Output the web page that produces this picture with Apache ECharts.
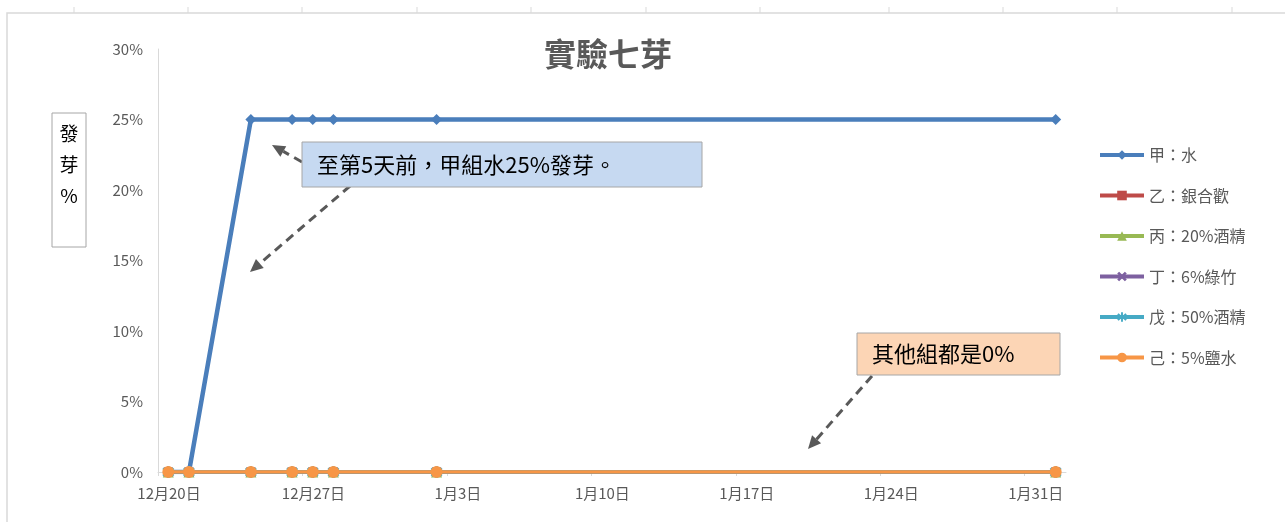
<!DOCTYPE html>
<html><head><meta charset="utf-8">
<script src="https://cdn.jsdelivr.net/npm/echarts@6/dist/echarts.min.js"></script>
<style>html,body{margin:0;padding:0;background:#fff}#c{width:1285px;height:522px}</style>
</head><body><div id="c"></div>
<script>
const titleText = '實驗七芽';
const yAxisTitle = '發\n芽\n%';
const dates = ['2016-12-20','2016-12-21','2016-12-24','2016-12-26','2016-12-27','2016-12-28','2017-01-02','2017-02-01'];
const tickDates = ['2016-12-20','2016-12-27','2017-01-03','2017-01-10','2017-01-17','2017-01-24','2017-01-31'];
const axisStart = '2016-12-20';
const axisEnd = '2017-02-02';
const seriesNames = ['甲：水','乙：銀合歡','丙：20%酒精','丁：6%綠竹','戊：50%酒精','己：5%鹽水'];
const jia  = [0, 0, 0.25, 0.25, 0.25, 0.25, 0.25, 0.25];
const yi   = [0, 0, 0, 0, 0, 0, 0, 0];
const bing = [0, 0, 0, 0, 0, 0, 0, 0];
const ding = [0, 0, 0, 0, 0, 0, 0, 0];
const wu   = [0, 0, 0, 0, 0, 0, 0, 0];
const ji   = [0, 0, 0, 0, 0, 0, 0, 0];
const note1 = '至第5天前，甲組水25%發芽。';
const note2 = '其他組都是0%';

const DAY = 86400000;
const t0 = Date.parse(axisStart);
const off = d => (Date.parse(d) - t0) / DAY;
const tickVals = tickDates.map(off);
const fmt = v => { const d = new Date(t0 + v * DAY); return (d.getUTCMonth() + 1) + '月' + d.getUTCDate() + '日'; };

const colors = ['#4A7EBB','#BE4B48','#98B954','#7D60A0','#46AAC5','#F79646'];
const xSym = 'path://M2,0L5,3L8,0L10,2L7,5L10,8L8,10L5,7L2,10L0,8L3,5L0,2Z';
const starSym = 'path://M4,0L6,0L6,3.5L8.5,1L10,2.5L7,5L10,7.5L8.5,9L6,6.5L6,10L4,10L4,6.5L1.5,9L0,7.5L3,5L0,2.5L1.5,1L4,3.5Z';
const symbols = ['diamond','rect','triangle',xSym,starSym,'circle'];
const sizes = [11,9,11,10,12,12];
const widths = [4.5,3.5,3.5,3.5,3.5,3.5];
const allData = [jia, yi, bing, ding, wu, ji];

const series = allData.map((arr, i) => ({
  name: seriesNames[i], type: 'line',
  data: arr.map((v, k) => [off(dates[k]) + 0.5, v]),
  symbol: symbols[i], symbolSize: sizes[i], showAllSymbol: true,
  lineStyle: { color: colors[i], width: widths[i] },
  itemStyle: { color: colors[i] },
  emphasis: { disabled: true }, animation: false, z: 2 + i
}));

function arrow(x1, y1, x2, y2) {
  const a = Math.atan2(y2 - y1, x2 - x1), L = 13, W = 6;
  const bx = x2 - L * Math.cos(a), by = y2 - L * Math.sin(a);
  const px = -Math.sin(a) * W, py = Math.cos(a) * W;
  return [
    { type: 'line', shape: { x1: x1, y1: y1, x2: bx, y2: by }, style: { stroke: '#595959', lineWidth: 3, lineDash: [9, 6] }, z: 50 },
    { type: 'polygon', shape: { points: [[x2, y2], [bx + px, by + py], [bx - px, by - py]] }, style: { fill: '#595959' }, z: 50 }
  ];
}

const gridTicks = [74, 188, 302, 417, 531, 646, 760, 889, 1003, 1117, 1232].map(x => ({
  type: 'line', shape: { x1: x, y1: 7, x2: x, y2: 13 }, style: { stroke: '#d9d9d9', lineWidth: 1 }, z: 1
}));

const chart = echarts.init(document.getElementById('c'), null, { renderer: 'canvas' });
chart.setOption({
  animation: false,
  backgroundColor: '#fff',
  textStyle: { fontFamily: 'Noto Sans CJK TC' },
  title: { text: titleText, left: 603, top: 33, textAlign: 'center',
    textStyle: { fontSize: 32, fontWeight: 'bold', color: '#595959', fontFamily: 'Noto Sans CJK TC' } },
  grid: { left: 158, right: 219, top: 49, bottom: 50, containLabel: false },
  legend: {
    orient: 'vertical', left: 1093, top: 142, itemWidth: 44, itemHeight: 12, itemGap: 24.5,
    lineStyle: { width: 4 },
    textStyle: { fontSize: 16, color: '#595959', fontFamily: 'Noto Sans CJK TC' },
    data: seriesNames
  },
  xAxis: {
    type: 'value', min: 0, max: off(axisEnd),
    axisLine: { show: true, lineStyle: { color: '#d9d9d9' } },
    axisTick: { show: true, length: 4, lineStyle: { color: '#d9d9d9' }, customValues: tickVals },
    axisLabel: { customValues: tickVals, formatter: fmt, color: '#595959', fontSize: 15, margin: 14,
      padding: [0, 0, 0, 22], fontFamily: 'Noto Sans CJK TC' },
    splitLine: { show: false }
  },
  yAxis: {
    type: 'value', min: 0, max: 0.3, interval: 0.05,
    axisLine: { show: true, lineStyle: { color: '#d9d9d9' } },
    axisTick: { show: false },
    axisLabel: { formatter: v => Math.round(v * 100) + '%', color: '#595959', fontSize: 15, margin: 15, fontFamily: 'Noto Sans CJK TC' },
    splitLine: { show: false }
  },
  series: series,
  graphic: [
    { type: 'rect', shape: { x: 7, y: 13, width: 1290, height: 520 }, style: { fill: 'none', stroke: '#d9d9d9', lineWidth: 1.5 }, z: 0, silent: true },
    ...gridTicks,
    { type: 'rect', shape: { x: 52, y: 113, width: 34, height: 134 }, style: { fill: '#fff', stroke: '#a6a6a6', lineWidth: 1 }, z: 40 },
    { type: 'text', x: 69, y: 118, style: { text: yAxisTitle, fill: '#000', font: '19px "Noto Sans CJK TC"', align: 'center', lineHeight: 31 }, z: 41 },
    ...arrow(302, 162, 272, 145),
    ...arrow(350, 186, 250, 272),
    ...arrow(872, 376, 808, 449),
    { type: 'rect', shape: { x: 302, y: 142, width: 400, height: 45 }, style: { fill: '#C6D9F1', stroke: '#a6a6a6', lineWidth: 1 }, z: 60 },
    { type: 'text', x: 317, y: 164.5, style: { text: note1, fill: '#000', font: '22px "Noto Sans CJK TC"', verticalAlign: 'middle' }, z: 61 },
    { type: 'rect', shape: { x: 857, y: 333, width: 203, height: 42 }, style: { fill: '#FCD5B5', stroke: '#a6a6a6', lineWidth: 1 }, z: 60 },
    { type: 'text', x: 872, y: 354, style: { text: note2, fill: '#000', font: '22px "Noto Sans CJK TC"', verticalAlign: 'middle' }, z: 61 }
  ]
});
</script>
</body></html>
